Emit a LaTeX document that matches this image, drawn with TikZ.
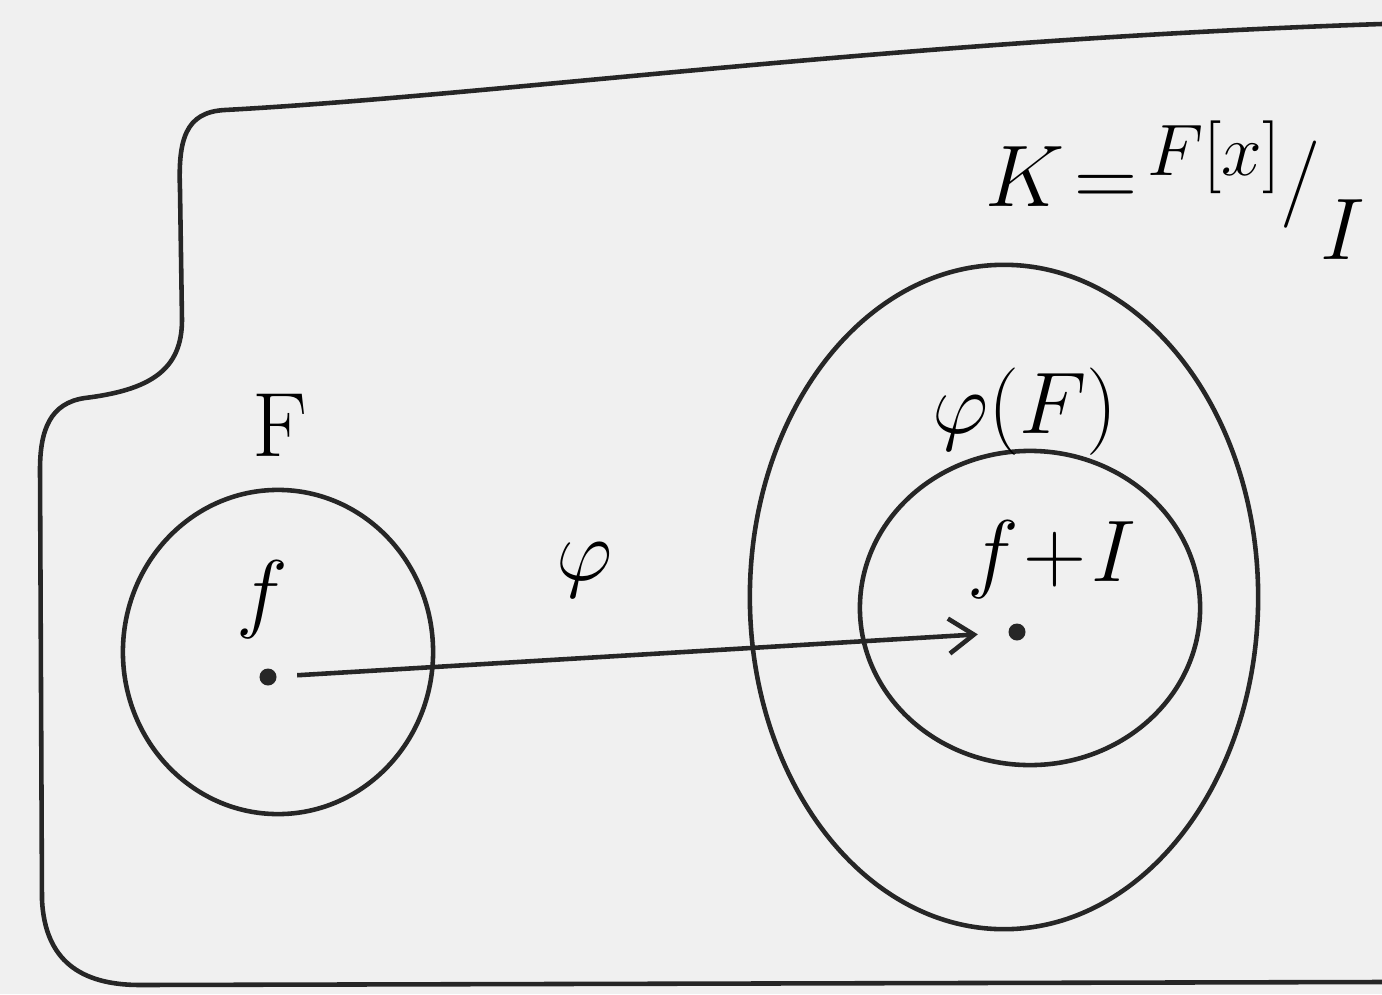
\documentclass[tikz,border=0pt]{standalone}
\usetikzlibrary{shapes.geometric,arrows.meta}
\begin{document}
\begin{tikzpicture}[x=0.01cm,y=-0.01cm,
  pen/.style={line width=1.3pt,black!85},
  oval/.style={ellipse,draw,line width=1.3pt,black!85,inner sep=0pt},
  lbl/.style={font=\fontsize{26}{30}\selectfont},
  dotnode/.style={circle,fill=black!85,inner sep=0pt,minimum size=0.17cm}]
\fill[gray!12] (0,0) rectangle (1382,994);
\useasboundingbox (0,0) rectangle (1382,994);
% outer boundary
\draw[pen] (1382,24) .. controls (900,40) and (500,95) .. (225,110)
  .. controls (185,112) and (178,140) .. (180,190)
  -- (182,320) .. controls (182,370) and (150,390) .. (85,398)
  .. controls (50,403) and (40,430) .. (40,470)
  -- (42,900) .. controls (45,960) and (80,985) .. (140,985)
  -- (1382,982);
% F circle
\node[oval,minimum width=3.10cm,minimum height=3.24cm] (Fc) at (278,652) {};
\node[lbl] (Fl) at (280,425) {F};
\node[lbl] (fl) at (262,600) {$f$};
\node[dotnode] (fd) at (268,677) {};
% K ellipse
\node[oval,minimum width=5.08cm,minimum height=6.64cm] (Kc) at (1004,597) {};
\node[oval,minimum width=3.40cm,minimum height=3.14cm] (Pc) at (1030,608) {};
\node[lbl] (Pl) at (1025,412) {$\varphi(F)$};
\node[lbl] (gl) at (1052,560) {$f\!+\!I$};
\node[dotnode] (gd) at (1017,632) {};
\node[font=\fontsize{30}{36}\selectfont,anchor=west,inner sep=0pt] (Kl) at (985,190)
  {$K\!=\!\raisebox{0.3em}{\fontsize{22}{26}\selectfont$F[x]$}\bigg/\raisebox{-0.5em}{\fontsize{24}{28}\selectfont$I$}$};
% map
\draw[pen,-{Straight Barb[length=0.25cm,width=0.35cm]},shorten <=0.2cm,shorten >=0.3cm] (fd) -- (gd);
\node[lbl] (phi) at (585,570) {$\varphi$};
\end{tikzpicture}
\end{document}
